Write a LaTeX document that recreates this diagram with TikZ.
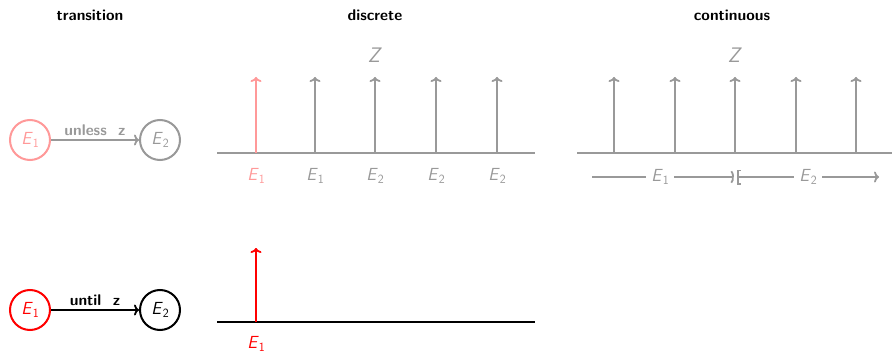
\documentclass[tikz,border=0pt]{standalone}
\usepackage{fontspec}
\usetikzlibrary{arrows.meta}
\definecolor{pinkc}{HTML}{FF9999}
\definecolor{grayc}{HTML}{999999}
\newcommand{\Ea}{\textit{E}\raisebox{-0.35ex}{\scalebox{0.72}{1}}}
\newcommand{\Eb}{\textit{E}\raisebox{-0.35ex}{\scalebox{0.72}{2}}}
\begin{document}
\begin{tikzpicture}[x=1pt,y=-1pt,
  font=\sffamily\fontsize{17.5}{20}\selectfont,
  title/.style={font=\sffamily\bfseries\fontsize{15.5}{18}\selectfont},
  state/.style={circle,draw,line width=2pt,minimum size=40pt,inner sep=0pt},
  trans/.style={line width=1.8pt,-{To[length=5pt,width=11pt]}},
  axis/.style={line width=2pt},
  spike/.style={line width=1.8pt,-{To[length=5pt,width=11pt]}},
  lab/.style={font=\sffamily\bfseries\fontsize{15.5}{18}\selectfont}]
\useasboundingbox (0,0) rectangle (892,353);
% titles
\node[title] (t1) at (90,15) {transition};
\node[title] (t2) at (375,15) {discrete};
\node[title] (t3) at (732,15) {continuous};
\node[grayc,font=\sffamily\fontsize{21}{24}\selectfont] (z1) at (375,55) {\textit{Z}};
\node[grayc,font=\sffamily\fontsize{21}{24}\selectfont] (z2) at (735,55) {\textit{Z}};
% upper row
\node[state,pinkc] (u1) at (30,140) {\Ea};
\node[state,grayc] (u2) at (160,140) {\Eb};
\draw[trans,grayc] (u1) -- node[lab,above=0pt] {unless\ \ z} (u2);
% discrete upper
\coordinate (da) at (217,153); \coordinate (db) at (535,153);
\draw[axis,grayc] (da) -- (db);
\foreach \x/\c/\l [count=\i] in {256/pinkc/\Ea,315/grayc/\Ea,375/grayc/\Eb,436/grayc/\Eb,497/grayc/\Eb}{
  \coordinate (ds\i) at (\x,153); \coordinate (dt\i) at (\x,77);
  \draw[spike,\c] (ds\i) -- (dt\i);
  \node[\c] (dl\i) at (\x,176) {\l};
}
% continuous
\coordinate (ca) at (577,153); \coordinate (cb) at (892,153);
\draw[axis,grayc] (ca) -- (cb);
\foreach \x [count=\i] in {614,675,735,796,856}{
  \coordinate (cs\i) at (\x,153); \coordinate (ct\i) at (\x,77);
  \draw[spike,grayc] (cs\i) -- (ct\i);
}
\coordinate (e1a) at (592,177); \coordinate (e1b) at (734,177);
\coordinate (e2a) at (737,177); \coordinate (e2b) at (879,177);
\draw[line width=1.8pt,grayc,-{Parenthesis[length=4.5pt,width=15pt]}] (e1a) -- node[fill=white,inner sep=5pt,pos=0.48] (ce1) {\Ea} (e1b);
\draw[line width=1.8pt,grayc,{Bracket[length=3pt,width=15pt]}-{To[length=5pt,width=11pt]}] (e2a) -- node[fill=white,inner sep=5pt,pos=0.5] (ce2) {\Eb} (e2b);
% lower row
\node[state,red] (l1) at (30,310) {\Ea};
\node[state,black] (l2) at (160,310) {\Eb};
\draw[trans,black] (l1) -- node[lab,above=0pt] {until\ \ z} (l2);
\coordinate (la) at (217,322); \coordinate (lb) at (535,322);
\draw[axis,black] (la) -- (lb);
\coordinate (ls) at (256,322); \coordinate (lt) at (256,248);
\draw[spike,red] (ls) -- (lt);
\node[red] (ll) at (256,344) {\Ea};
\end{tikzpicture}
\end{document}
